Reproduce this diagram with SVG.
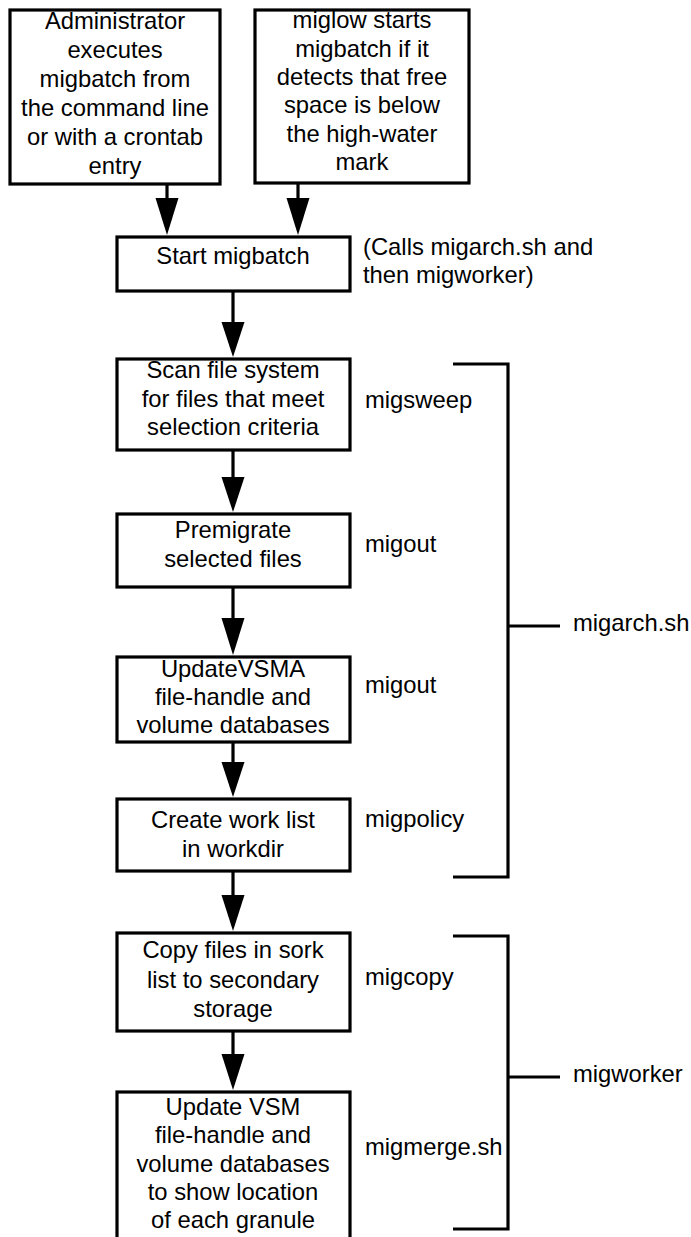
<svg xmlns="http://www.w3.org/2000/svg" width="691" height="1237" viewBox="0 0 691 1237">
  <defs>
    <style>
      .box { fill: #ffffff; stroke: #000000; stroke-width: 3.2; }
      .t { font-family: "Liberation Sans", Arial, Helvetica, sans-serif; font-size: 23.8px; fill: #000000; }
      .c { text-anchor: middle; }
      .wire { fill: none; stroke: #000000; stroke-width: 3.2; }
      .brk { fill: none; stroke: #000000; stroke-width: 3.2; stroke-linejoin: miter; }
    </style>
    <marker id="head" markerUnits="userSpaceOnUse" markerWidth="24" markerHeight="37" refX="12" refY="36" orient="auto-start-reverse" viewBox="0 0 24 37">
      <path d="M0.5,0 L23.5,0 L12,36 Z" fill="#000000"/>
    </marker>
  </defs>
  <rect width="691" height="1237" fill="#ffffff"/>

  <!-- flow connectors -->
  <g id="connectors">
    <line class="wire" x1="167" y1="184" x2="167" y2="200"/>
    <path d="M155.5,198 L178.5,198 L167,235 Z" fill="#000"/>
    <line class="wire" x1="298" y1="184" x2="298" y2="200"/>
    <path d="M286.5,198 L309.5,198 L298,235 Z" fill="#000"/>
    <line class="wire" x1="233" y1="291" x2="233" y2="324"/>
    <path d="M221.5,322 L244.5,322 L233,357 Z" fill="#000"/>
    <line class="wire" x1="233" y1="450" x2="233" y2="479"/>
    <path d="M221.5,477 L244.5,477 L233,512 Z" fill="#000"/>
    <line class="wire" x1="233" y1="587" x2="233" y2="620"/>
    <path d="M221.5,618 L244.5,618 L233,655 Z" fill="#000"/>
    <line class="wire" x1="233" y1="742" x2="233" y2="764"/>
    <path d="M221.5,762 L244.5,762 L233,797 Z" fill="#000"/>
    <line class="wire" x1="233" y1="871" x2="233" y2="897"/>
    <path d="M221.5,895 L244.5,895 L233,931 Z" fill="#000"/>
    <line class="wire" x1="233" y1="1031" x2="233" y2="1056"/>
    <path d="M221.5,1054 L244.5,1054 L233,1090 Z" fill="#000"/>
  </g>

  <!-- grouping brackets -->
  <g id="bracket-migarch">
    <path class="brk" d="M453,364 H508 V877 H453"/>
    <line class="brk" x1="508" y1="626" x2="560" y2="626"/>
    <text class="t" x="573" y="631">migarch.sh</text>
  </g>
  <g id="bracket-migworker">
    <path class="brk" d="M453,936 H508 V1229 H453"/>
    <line class="brk" x1="508" y1="1077" x2="560" y2="1077"/>
    <text class="t" x="573" y="1082">migworker</text>
  </g>

  <g id="node-admin">
    <rect class="box" x="10" y="10" width="210" height="174"/>
    <text class="t c" x="115" y="29">Administrator</text>
    <text class="t c" x="115" y="58">executes</text>
    <text class="t c" x="115" y="87">migbatch from</text>
    <text class="t c" x="115" y="116">the command line</text>
    <text class="t c" x="115" y="145">or with a crontab</text>
    <text class="t c" x="115" y="174">entry</text>
  </g>

  <g id="node-miglow">
    <rect class="box" x="255" y="10" width="214" height="173"/>
    <text class="t c" x="362" y="28">miglow starts</text>
    <text class="t c" x="362" y="57">migbatch if it</text>
    <text class="t c" x="362" y="85">detects that free</text>
    <text class="t c" x="362" y="113">space is below</text>
    <text class="t c" x="362" y="142">the high-water</text>
    <text class="t c" x="362" y="170">mark</text>
  </g>

  <g id="node-start">
    <rect class="box" x="117" y="237" width="233" height="54"/>
    <text class="t c" x="233" y="264">Start migbatch</text>
    <text class="t" x="363" y="255">(Calls migarch.sh and</text>
    <text class="t" x="363" y="283">then migworker)</text>
  </g>

  <g id="node-scan">
    <rect class="box" x="117" y="359" width="233" height="91"/>
    <text class="t c" x="233" y="378">Scan file system</text>
    <text class="t c" x="233" y="407">for files that meet</text>
    <text class="t c" x="233" y="435">selection criteria</text>
    <text class="t" x="365" y="408">migsweep</text>
  </g>

  <g id="node-premigrate">
    <rect class="box" x="117" y="514" width="233" height="73"/>
    <text class="t c" x="233" y="538">Premigrate</text>
    <text class="t c" x="233" y="567">selected files</text>
    <text class="t" x="365" y="552">migout</text>
  </g>

  <g id="node-update-vsma">
    <rect class="box" x="117" y="657" width="233" height="85"/>
    <text class="t c" x="233" y="677">UpdateVSMA</text>
    <text class="t c" x="233" y="705">file-handle and</text>
    <text class="t c" x="233" y="733">volume databases</text>
    <text class="t" x="365" y="693">migout</text>
  </g>

  <g id="node-worklist">
    <rect class="box" x="117" y="799" width="233" height="72"/>
    <text class="t c" x="233" y="828">Create work list</text>
    <text class="t c" x="233" y="857">in workdir</text>
    <text class="t" x="365" y="827">migpolicy</text>
  </g>

  <g id="node-copy">
    <rect class="box" x="117" y="933" width="233" height="98"/>
    <text class="t c" x="233" y="958">Copy files in sork</text>
    <text class="t c" x="233" y="988">list to secondary</text>
    <text class="t c" x="233" y="1017">storage</text>
    <text class="t" x="365" y="985">migcopy</text>
  </g>

  <g id="node-update-vsm">
    <rect class="box" x="117" y="1092" width="233" height="160"/>
    <text class="t c" x="233" y="1115">Update VSM</text>
    <text class="t c" x="233" y="1143">file-handle and</text>
    <text class="t c" x="233" y="1172">volume databases</text>
    <text class="t c" x="233" y="1200">to show location</text>
    <text class="t c" x="233" y="1228">of each granule</text>
    <text class="t" x="365" y="1155">migmerge.sh</text>
  </g>
</svg>
